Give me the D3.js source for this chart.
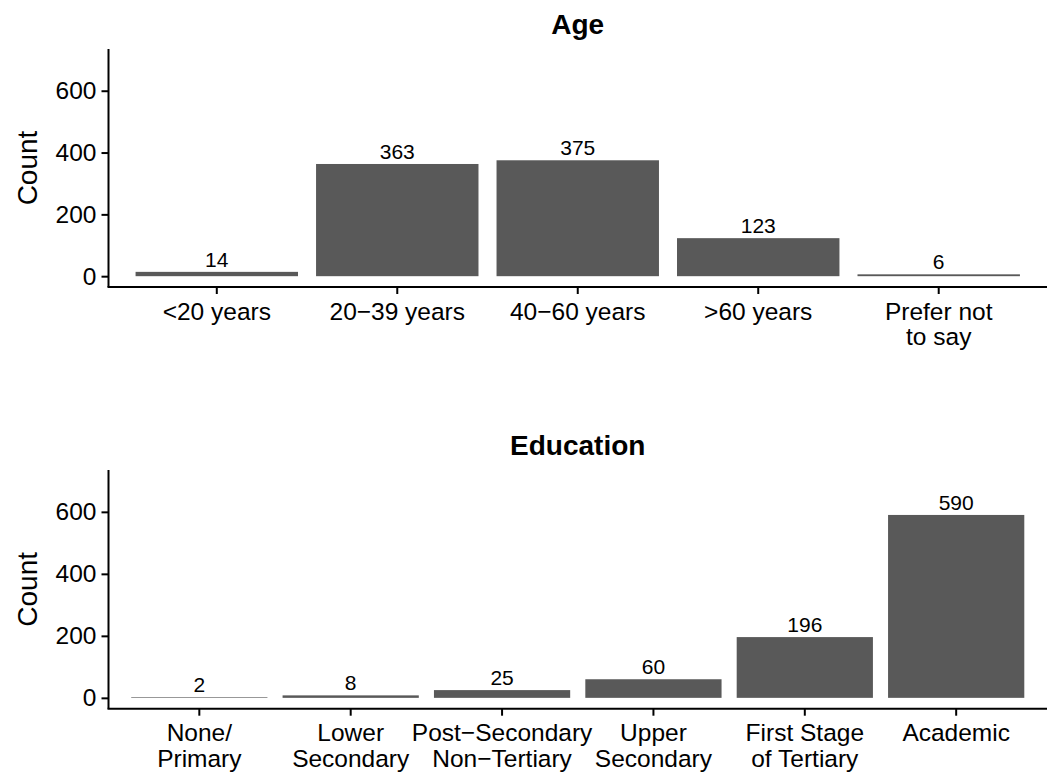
<!DOCTYPE html>
<html>
<head>
<meta charset="utf-8">
<script src="https://cdn.jsdelivr.net/npm/d3@7"></script>
<style>
  html, body { margin: 0; padding: 0; background: #fff; }
  svg { display: block; font-family: "Liberation Sans", Arial, Helvetica, sans-serif; }
</style>
</head>
<body>
<svg id="chart" width="1053" height="774"></svg>
<script>
// ---- data ----
const ageCategories = ["<20 years", "20\u221239 years", "40\u221260 years", ">60 years", "Prefer not\nto say"];
const ageCounts = [14, 363, 375, 123, 6];
const eduCategories = ["None/\nPrimary", "Lower\nSecondary", "Post\u2212Secondary\nNon\u2212Tertiary", "Upper\nSecondary", "First Stage\nof Tertiary", "Academic"];
const eduCounts = [2, 8, 25, 60, 196, 590];
const yTicks = [0, 200, 400, 600];
const panelTitles = ["Age", "Education"];
const yTitle = "Count";

// ---- layout ----
const svg = d3.select("#chart");
const left = 108.5, right = 1047;
const panels = [
  { title: panelTitles[0], cats: ageCategories, vals: ageCounts, top: 49, bottom: 287 },
  { title: panelTitles[1], cats: eduCategories, vals: eduCounts, top: 470, bottom: 708.7 }
];
const barColor = "#595959";

panels.forEach(p => {
  const g = svg.append("g");
  const x = d3.scaleBand().domain(p.cats).range([left, right]).paddingInner(0.1).paddingOuter(0.15);
  const y = d3.scaleLinear().domain([-35, 735]).range([p.bottom, p.top]);

  // bars
  g.selectAll("rect.bar").data(p.cats).enter().append("rect")
    .attr("class", "bar")
    .attr("x", d => x(d))
    .attr("width", x.bandwidth())
    .attr("y", (d, i) => y(p.vals[i]))
    .attr("height", (d, i) => y(0) - y(p.vals[i]))
    .attr("fill", barColor);

  // value labels
  g.selectAll("text.val").data(p.cats).enter().append("text")
    .attr("class", "val")
    .attr("x", d => x(d) + x.bandwidth() / 2)
    .attr("y", (d, i) => y(p.vals[i]) - 5)
    .attr("text-anchor", "middle")
    .attr("font-size", 21)
    .attr("fill", "#000")
    .text((d, i) => p.vals[i]);

  // y axis
  const yAxis = d3.axisLeft(y).tickValues(yTicks).tickSize(7).tickPadding(5);
  const ya = g.append("g").attr("transform", `translate(${left},0)`).call(yAxis);
  ya.select(".domain").attr("d", `M0,${p.top}V${p.bottom}`).attr("stroke", "#000").attr("stroke-width", 2);
  ya.selectAll(".tick line").attr("stroke", "#000").attr("stroke-width", 2);
  ya.selectAll(".tick text").attr("font-size", 24.5).attr("fill", "#000").attr("font-family", "Liberation Sans, Arial, sans-serif");

  // x axis
  const xAxis = d3.axisBottom(x).tickSize(7).tickPadding(4);
  const xa = g.append("g").attr("transform", `translate(0,${p.bottom})`).call(xAxis);
  xa.select(".domain").attr("d", `M${left - 1},0H${right}`).attr("stroke", "#000").attr("stroke-width", 2);
  xa.selectAll(".tick line").attr("stroke", "#000").attr("stroke-width", 2);
  xa.selectAll(".tick text").each(function(d) {
    const t = d3.select(this);
    const lines = d.split("\n");
    t.text(null).attr("font-size", 24.5).attr("fill", "#000").attr("font-family", "Liberation Sans, Arial, sans-serif")
      .attr("y", 0).attr("dy", null);
    lines.forEach((ln, k) => {
      t.append("tspan").attr("x", 0).attr("y", 32.5 + k * 25.5).attr("text-anchor", "middle").text(ln);
    });
  });

  // y title
  g.append("text")
    .attr("transform", `translate(37,${(p.top + p.bottom) / 2}) rotate(-90)`)
    .attr("text-anchor", "middle")
    .attr("font-size", 28)
    .attr("fill", "#000")
    .text(yTitle);

  // panel title
  g.append("text")
    .attr("x", (left + right) / 2)
    .attr("y", p.top - 15)
    .attr("text-anchor", "middle")
    .attr("font-size", 28)
    .attr("font-weight", "bold")
    .attr("fill", "#000")
    .text(p.title);
});
</script>
</body>
</html>
